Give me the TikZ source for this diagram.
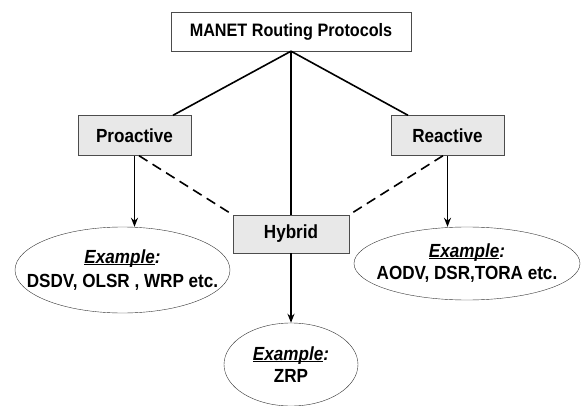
\documentclass[tikz,border=0pt]{standalone}
\usepackage{fontspec}
\setmainfont{Liberation Sans}[FakeStretch=0.9]
\usetikzlibrary{positioning, shapes.geometric, arrows.meta}

\tikzset{
    protobox/.style={draw=black!70, fill=gray!18, minimum width=113pt, minimum height=40pt, font=\bfseries\fontsize{19}{21}\selectfont},
    examplebubble/.style={draw=black!80, ellipse, inner sep=0pt, align=center, font=\bfseries\fontsize{19}{22}\selectfont},
    link/.style={line width=1.6pt},
    arrowlink/.style={line width=1.6pt, -{Stealth[length=9pt,width=7pt]}}
}

\newsavebox{\exbox}
\newcommand{\examplehead}{\makebox[0pt]{\sbox{\exbox}{\textit{Example}}\rlap{\rule[-1.5pt]{\wd\exbox}{1.3pt}}\usebox{\exbox}\textit{:}}}
\newcommand{\exlist}[1]{\makebox[0pt]{#1}}

\begin{document}
\begin{tikzpicture}[x=1pt, y=-1pt]
    \useasboundingbox (0,0) rectangle (581,406);
    % class boxes
    \node[draw=black!70, fill=white, minimum width=240pt, minimum height=39pt, font=\bfseries\fontsize{18}{20}\selectfont] (manet) at (291,31.5) {MANET Routing Protocols};
    \node[protobox] (proactive) at (134.5,135.5) {Proactive};
    \node[protobox] (reactive) at (447.5,135.5) {Reactive};
    \node[protobox, minimum width=116pt, minimum height=38pt] (hybrid) at (291,234) {Hybrid};
    % example ellipses
    \node[examplebubble, minimum width=215pt, minimum height=86pt] (exleft) at (122.5,270) {\examplehead\\[2pt]\exlist{DSDV, OLSR , WRP etc.}};
    \node[examplebubble, minimum width=226pt, minimum height=73pt] (exright) at (467,263.5) {\examplehead\\\exlist{AODV, DSR,TORA etc.}};
    \node[examplebubble, minimum width=134pt, minimum height=83pt] (exmid) at (291,364.5) {\examplehead\\\exlist{ZRP}};
    % connectors
    \draw[link] (manet.south) -- (proactive.north -| 173,0);
    \draw[link] (manet.south) -- (reactive.north -| 408,0);
    \draw[link] (manet.south) -- (hybrid.north);
    \draw[link, dashed, dash pattern=on 10pt off 6pt] (proactive.south -| 139,0) -- (hybrid.north west);
    \draw[link, dashed, dash pattern=on 10pt off 6pt] (reactive.south -| 443,0) -- (hybrid.north east);
    \draw[arrowlink] (proactive.south) -- (exleft.north -| proactive.south);
    \draw[arrowlink] (reactive.south) -- (exright.north -| reactive.south);
    \draw[arrowlink] (hybrid.south) -- (exmid.north);
\end{tikzpicture}
\end{document}
